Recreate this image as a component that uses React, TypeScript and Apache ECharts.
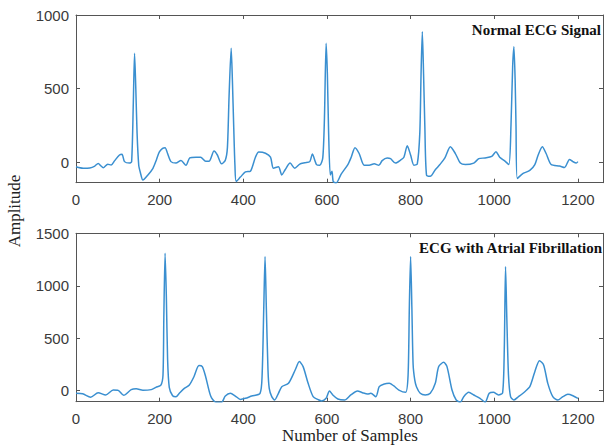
import React, { useEffect, useRef } from "react";
import * as echarts from "echarts";

// Normal ECG signal: sample index and amplitude
const normalX = [0,17,33,45,53,60,65,76,84,92,104,110,116,128,133,137,140,143,146,150,154,160,172,184,192,199,207,213,219,227,239,251,263,272,287,298,310,319,330,338,348,357,362,366,371,374,377,380,383,393,405,417,429,437,453,465,472,484,492,500,512,523,535,547,559,565,575,583,590,594,598,601,604,608,612,615,622,634,650,658,667,677,689,701,713,724,732,744,752,764,776,784,792,800,808,816,822,825,828,831,834,838,847,859,870,882,895,907,919,931,951,963,978,994,1004,1013,1025,1035,1040,1044,1047,1050,1052,1055,1069,1085,1097,1105,1115,1124,1136,1156,1168,1180,1188,1196,1200];
const normalY = [-30,-40,-38,-25,-7,-25,-37,-12,-18,10,50,55,5,-5,5,400,740,500,200,-20,-70,-120,-85,-40,15,70,95,100,60,5,-5,13,-20,30,35,35,7,9,77,50,-10,15,100,450,774,550,250,-20,-130,-100,-65,-60,35,70,62,35,-40,-30,-85,-50,-5,-40,-12,-3,5,56,-15,-20,30,300,808,600,200,-86,-60,-130,-140,-80,-15,35,100,60,-20,-20,-10,-20,12,30,25,-5,15,35,113,50,-20,-10,200,600,887,600,250,-86,-95,-50,-15,30,106,60,-5,-15,-5,25,30,40,72,35,10,-15,250,650,785,550,250,-109,-75,-55,-15,50,106,60,-15,-25,-35,20,5,-5,5];

// ECG with atrial fibrillation: sample index and amplitude
const afibX = [0,16,35,53,71,89,100,114,132,144,160,180,191,203,208,210,213,216,219,223,231,239,247,259,271,282,294,302,310,322,334,348,357,369,381,393,405,420,440,445,449,452,455,459,462,468,475,484,492,508,524,534,543,555,567,579,587,598,606,614,626,642,657,673,685,697,705,717,725,737,749,760,772,788,794,797,800,803,806,810,814,823,835,847,859,867,879,887,899,909,919,927,939,951,966,978,988,998,1010,1020,1024,1027,1030,1034,1039,1047,1058,1073,1085,1097,1108,1118,1128,1140,1152,1164,1176,1188,1200];
const afibY = [-25,-30,-63,-19,-41,6,5,-44,10,18,3,10,32,54,150,700,1311,900,300,32,-48,-57,-25,22,54,133,239,229,133,-51,-110,-110,-51,-25,-51,-83,-73,-51,-25,150,800,1279,800,200,22,-57,-89,-25,38,70,197,277,229,70,-57,-85,-98,-73,-3,-41,-79,-89,-41,-3,-19,-32,-25,-57,38,64,70,45,6,-16,150,800,1279,800,250,100,38,-25,-41,-25,70,229,270,229,6,-89,-110,-57,-16,-41,-73,-110,-25,-16,-41,-20,400,1184,700,150,-57,-89,-57,-10,38,181,286,245,70,-57,-89,-57,-35,-48,-73];

const xTicks = [0, 200, 400, 600, 800, 1000, 1200];
const yTicksTop = [0, 500, 1000];
const yTicksBottom = [0, 500, 1000, 1500];

const titleTop = "Normal ECG Signal";
const titleBottom = "ECG with Atrial Fibrillation";
const yTitle = "Amplitude";
const xTitle = "Number of Samples";

const AXIS_COLOR = "#555555";
const LINE_COLOR = "#3a8fd0";

export default function App() {
  const ref = useRef<HTMLDivElement>(null);
  useEffect(() => {
    if (!ref.current) return;
    const chart = echarts.init(ref.current, undefined, { renderer: "svg" });

    const lineStyle = { show: true, onZero: false, lineStyle: { color: AXIS_COLOR, width: 1 } };
    const labelStyle = {
      color: "#3a3a3a",
      fontSize: 15,
      fontFamily: "Liberation Sans, Arial, sans-serif",
    };

    const xAxisFor = (gridIndex: number, position: string, showLabel: boolean) => ({
      type: "value",
      gridIndex,
      position,
      min: 0,
      max: 1260,
      minInterval: 200,
      maxInterval: 200,
      axisLine: lineStyle,
      axisTick: {
        show: true,
        inside: true,
        length: 4,
        lineStyle: { color: AXIS_COLOR },
        interval: (_i: number, v: number) => xTicks.includes(Number(v)),
      },
      splitLine: { show: false },
      axisLabel: {
        show: showLabel,
        margin: 9,
        ...labelStyle,
        formatter: (v: number) => (xTicks.includes(v) ? String(v) : ""),
      },
    });

    const yAxisFor = (gridIndex: number, position: string, showLabel: boolean, min: number, max: number, ticks: number[]) => ({
      type: "value",
      gridIndex,
      position,
      min,
      max,
      minInterval: 500,
      maxInterval: 500,
      axisLine: lineStyle,
      axisTick: { show: true, inside: true, length: 4, lineStyle: { color: AXIS_COLOR } },
      splitLine: { show: false },
      axisLabel: {
        show: showLabel,
        margin: 7,
        ...labelStyle,
        formatter: (v: number) => (ticks.includes(v) ? String(v) : ""),
      },
    });

    chart.setOption({
      animation: false,
      backgroundColor: "#ffffff",
      grid: [
        { left: 76, top: 15, width: 531, height: 167.7 },
        { left: 76, top: 233.3, width: 531, height: 168.4 },
      ],
      xAxis: [
        xAxisFor(0, "bottom", true),
        xAxisFor(0, "top", false),
        xAxisFor(1, "bottom", true),
        xAxisFor(1, "top", false),
      ],
      yAxis: [
        yAxisFor(0, "left", true, -138, 1000, yTicksTop),
        yAxisFor(0, "right", false, -138, 1000, yTicksTop),
        yAxisFor(1, "left", true, -105, 1500, yTicksBottom),
        yAxisFor(1, "right", false, -105, 1500, yTicksBottom),
      ],
      series: [
        {
          type: "line",
          xAxisIndex: 0,
          yAxisIndex: 0,
          data: normalX.map((x, i) => [x, normalY[i]]),
          showSymbol: false,
          smooth: 0.25,
          clip: true,
          lineStyle: { color: LINE_COLOR, width: 1.5 },
        },
        {
          type: "line",
          xAxisIndex: 2,
          yAxisIndex: 2,
          data: afibX.map((x, i) => [x, afibY[i]]),
          showSymbol: false,
          smooth: 0.25,
          clip: true,
          lineStyle: { color: LINE_COLOR, width: 1.5 },
        },
      ],
      graphic: [
        {
          type: "text",
          style: {
            text: titleTop,
            x: 601,
            y: 30,
            align: "right",
            verticalAlign: "middle",
            font: 'bold 15px "Liberation Serif", "Times New Roman", serif',
            fill: "#111111",
          },
        },
        {
          type: "text",
          style: {
            text: titleBottom,
            x: 602,
            y: 248,
            align: "right",
            verticalAlign: "middle",
            font: 'bold 15px "Liberation Serif", "Times New Roman", serif',
            fill: "#111111",
          },
        },
        {
          type: "text",
          x: 14,
          y: 211,
          rotation: Math.PI / 2,
          style: {
            text: yTitle,
            x: 0,
            y: 0,
            align: "center",
            verticalAlign: "middle",
            font: '17px "Liberation Serif", "Times New Roman", serif',
            fill: "#222222",
          },
        },
        {
          type: "text",
          style: {
            text: xTitle,
            x: 350,
            y: 435,
            align: "center",
            verticalAlign: "middle",
            font: '17px "Liberation Serif", "Times New Roman", serif',
            fill: "#222222",
          },
        },
      ],
    });
    return () => chart.dispose();
  }, []);

  return (
    <div
      ref={ref}
      style={{ position: "absolute", left: 0, top: 0, width: 606, height: 447, overflow: "hidden" }}
    />
  );
}
